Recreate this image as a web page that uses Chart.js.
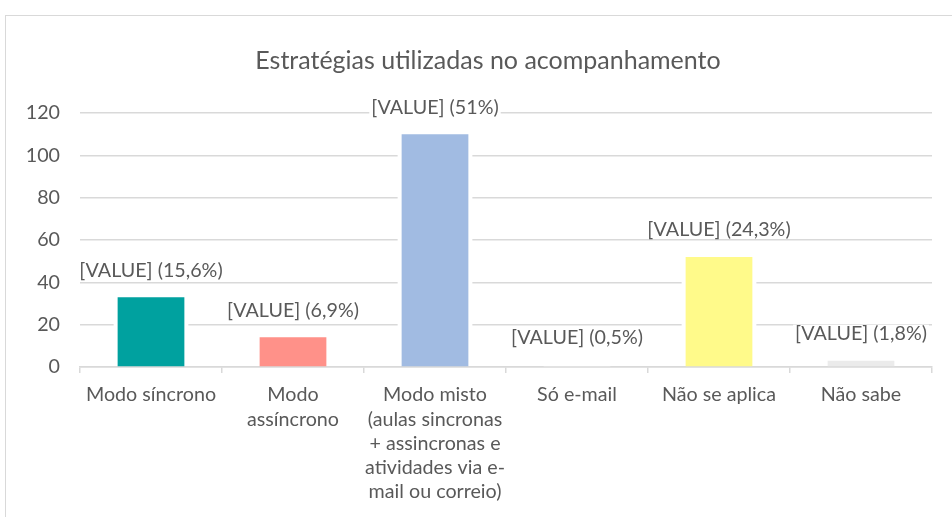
<!DOCTYPE html>
<html><head><meta charset="utf-8">
<script src="https://cdn.jsdelivr.net/npm/chart.js@4"></script>
<style>
html,body{margin:0;padding:0;background:#fff;overflow:hidden}
#wrap{position:relative;width:952px;height:517px;overflow:hidden}
#frame{position:absolute;left:5px;top:15px;width:1000px;height:600px;border:1.5px solid #d9d9d9;box-sizing:border-box}
canvas{position:absolute;left:0;top:0}
</style></head><body>
<div id="wrap"><div id="frame"></div><canvas id="c" width="952" height="517"></canvas></div>
<script>
const chartTitle = 'Estratégias utilizadas no acompanhamento';
const categories = [
  ['Modo síncrono'],
  ['Modo', 'assíncrono'],
  ['Modo misto', '(aulas sincronas', '+ assincronas e', 'atividades via e-', 'mail ou correio)'],
  ['Só e-mail'],
  ['Não se aplica'],
  ['Não sabe']
];
const values = [33, 14, 110, 1, 52, 3];
const valueLabels = ['[VALUE] (15,6%)', '[VALUE] (6,9%)', '[VALUE] (51%)', '[VALUE] (0,5%)', '[VALUE] (24,3%)', '[VALUE] (1,8%)'];
const barColors = ['#00A19F', '#FF9189', '#A1BBE2', '#FFFFFF', '#FFFA8A', '#EBEBEB'];
const yMin = 0, yMax = 120, yStep = 20;

const FONT = 'Lato';
const TXT = '#595959';
const GRID = '#d9d9d9';

const decor = {
  id: 'decor',
  beforeDatasetsDraw(chart) {
    const ctx = chart.ctx;
    const meta = chart.getDatasetMeta(0);
    ctx.save();
    ctx.fillStyle = '#ffffff';
    meta.data.forEach(bar => {
      const p = bar.getProps(['x', 'y', 'base', 'width'], true);
      ctx.fillRect(p.x - p.width / 2 - 4, p.y - 4, p.width + 8, p.base - p.y + 3);
    });
    ctx.restore();
  },
  afterDatasetsDraw(chart) {
    const ctx = chart.ctx;
    const meta = chart.getDatasetMeta(0);
    ctx.save();
    ctx.font = '19.7px ' + FONT;
    ctx.textAlign = 'center';
    ctx.textBaseline = 'middle';
    meta.data.forEach((bar, i) => {
      const p = bar.getProps(['x', 'y'], true);
      const t = valueLabels[i];
      const w = ctx.measureText(t).width;
      const cy = p.y - 27;
      ctx.fillStyle = '#ffffff';
      ctx.fillRect(p.x - w / 2 - 2, cy - 9, w + 4, 17);
      ctx.fillStyle = TXT;
      ctx.fillText(t, p.x, cy);
    });
    ctx.restore();
  },
  afterDraw(chart) {
    const ctx = chart.ctx;
    ctx.save();
    ctx.font = '25px ' + FONT;
    ctx.fillStyle = TXT;
    ctx.textAlign = 'center';
    ctx.textBaseline = 'middle';
    ctx.fillText(chartTitle, 488, 61);
    ctx.restore();
  }
};

new Chart(document.getElementById('c'), {
  type: 'bar',
  data: {
    labels: categories,
    datasets: [{
      data: values,
      backgroundColor: barColors,
      borderWidth: 0,
      barPercentage: 0.47,
      categoryPercentage: 1
    }]
  },
  options: {
    responsive: false,
    devicePixelRatio: 1,
    animation: false,
    layout: { padding: { top: 113, left: 0, right: 20, bottom: 0 } },
    plugins: { legend: { display: false }, title: { display: false }, tooltip: { enabled: false } },
    scales: {
      x: {
        afterFit(s) { s.height = 150; },
        grid: { offset: true, drawOnChartArea: false, drawTicks: true, tickLength: 6, color: GRID, lineWidth: 1.5 },
        border: { display: true, color: GRID, width: 1.5 },
        ticks: { color: TXT, font: { family: FONT, size: 19.7, lineHeight: 1.23 }, maxRotation: 0, autoSkip: false, padding: 10 }
      },
      y: {
        min: yMin, max: yMax,
        afterFit(s) { s.width = 80; },
        grid: { color: GRID, lineWidth: 1.5, drawTicks: false },
        border: { display: false },
        ticks: { stepSize: yStep, color: TXT, font: { family: FONT, size: 19.7 }, padding: 20 }
      }
    }
  },
  plugins: [decor]
});
</script>
</body></html>
